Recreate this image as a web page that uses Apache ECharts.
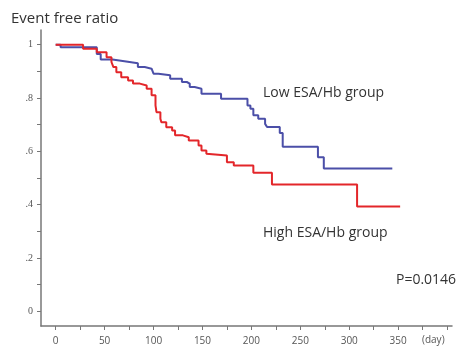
<!DOCTYPE html>
<html>
<head>
<meta charset="utf-8">
<script src="https://cdn.jsdelivr.net/npm/echarts@6/dist/echarts.min.js"></script>
<style>html,body{margin:0;padding:0;background:#fff}#c{width:460px;height:347px}</style>
</head>
<body>
<div id="c"></div>
<script>
// Low ESA/Hb group (blue) Kaplan-Meier steps: day of step, survival after step
var lowDays = [0, 5, 42, 46, 58, 72, 84, 91, 98, 100, 105, 117, 129, 134, 137, 142, 149, 169, 196, 199, 202, 207, 214, 216, 229, 232, 268, 274, 344];
var lowVals = [1.0, 0.99, 0.965, 0.944, 0.937, 0.93, 0.916, 0.91, 0.904, 0.891, 0.885, 0.872, 0.86, 0.854, 0.841, 0.835, 0.816, 0.797, 0.772, 0.76, 0.735, 0.722, 0.703, 0.691, 0.669, 0.617, 0.578, 0.536, 0.536];
// High ESA/Hb group (red)
var highDays = [0, 28, 42, 52, 57, 59, 62, 67, 74, 79, 86, 93, 98, 102, 103, 107, 108, 113, 119, 122, 130, 136, 146, 149, 154, 156, 175, 182, 202, 221, 308, 352];
var highVals = [1.0, 0.985, 0.972, 0.953, 0.935, 0.916, 0.897, 0.878, 0.866, 0.854, 0.847, 0.835, 0.81, 0.772, 0.747, 0.722, 0.709, 0.69, 0.678, 0.66, 0.653, 0.641, 0.622, 0.603, 0.591, 0.584, 0.559, 0.547, 0.52, 0.476, 0.393, 0.393];

var xTicks = [0, 25, 50, 75, 100, 125, 150, 175, 200, 225, 250, 275, 300, 325, 350, 375, 400];
var xLabels = [0, 50, 100, 150, 200, 250, 300, 350];
var yTicks = [0, 0.1, 0.2, 0.3, 0.4, 0.5, 0.6, 0.7, 0.8, 0.9, 1];
var yLabels = [0, 0.2, 0.4, 0.6, 0.8, 1];

var titleText = 'Event free ratio';
var lowName = 'Low ESA/Hb group';
var highName = 'High ESA/Hb group';
var pText = 'P=0.0146';
var unitText = '(day)';

function pairs(d, v) { return d.map(function (x, i) { return [x, v[i]]; }); }

var chart = echarts.init(document.getElementById('c'), null, { renderer: 'canvas' });
var font = 'Open Sans';
chart.setOption({
  animation: false,
  backgroundColor: '#fff',
  title: {
    text: titleText, left: 6, top: 6,
    textStyle: { fontSize: 15, fontWeight: 'normal', color: '#333', fontFamily: font }
  },
  grid: { left: 41, right: 8, top: 30, bottom: 21 },
  xAxis: {
    type: 'value', min: -15, max: 405,
    axisLine: { show: true, onZero: false, lineStyle: { color: '#777', width: 1.5 } },
    axisTick: { show: true, customValues: xTicks, length: 4, lineStyle: { color: '#777' } },
    axisLabel: { customValues: xLabels, color: '#555', fontSize: 10, fontFamily: font, margin: 10 },
    splitLine: { show: false }
  },
  yAxis: {
    type: 'value', min: -0.055, max: 1.055,
    axisLine: { show: true, onZero: false, lineStyle: { color: '#777', width: 1.5 } },
    axisTick: { show: true, customValues: yTicks, length: 4, lineStyle: { color: '#777' } },
    axisLabel: {
      customValues: yLabels, color: '#555', fontSize: 10, fontFamily: 'Liberation Serif', margin: 8,
      formatter: function (v) { return v === 1 ? '1' : (v === 0 ? '0' : '.' + Math.round(v * 10)); }
    },
    splitLine: { show: false }
  },
  series: [
    {
      name: lowName, type: 'line', step: 'end', data: pairs(lowDays, lowVals),
      showSymbol: false, lineStyle: { color: '#4b4fa8', width: 2 }, z: 3
    },
    {
      name: highName, type: 'line', step: 'end', data: pairs(highDays, highVals),
      showSymbol: false, lineStyle: { color: '#e3262a', width: 2 }, z: 4
    }
  ],
  graphic: [
    { type: 'text', left: 263, top: 86, style: { text: lowName, fontSize: 14, fill: '#333', fontFamily: font } },
    { type: 'text', left: 263, top: 226, style: { text: highName, fontSize: 14, fill: '#333', fontFamily: font } },
    { type: 'text', left: 396, top: 273, style: { text: pText, fontSize: 14, fill: '#333', fontFamily: font } },
    { type: 'text', left: 422, top: 335, style: { text: unitText, fontSize: 10, fill: '#555', fontFamily: font } }
  ]
});
</script>
</body>
</html>
